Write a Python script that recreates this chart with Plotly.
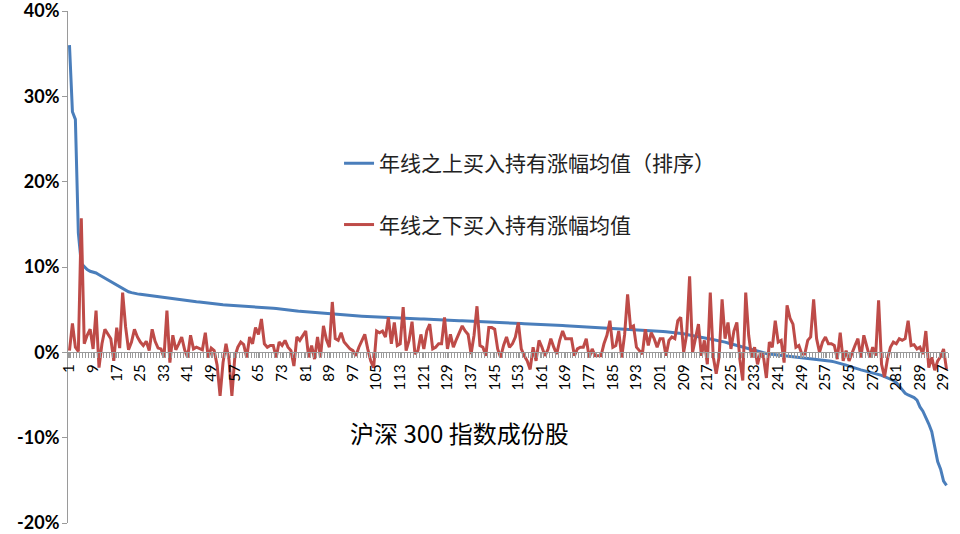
import plotly.graph_objects as go

# ---- data (values in %) ----
above_sorted = [
    36.0, 28.2, 27.3, 14.0, 10.4, 10.0, 9.7, 9.5, 9.4, 9.3,
    9.1, 8.9, 8.7, 8.5, 8.3, 8.1, 7.9, 7.7, 7.4, 7.2,
    7.1, 7.0, 6.9, 6.85, 6.8, 6.75, 6.7, 6.65, 6.6, 6.55,
    6.5, 6.45, 6.4, 6.35, 6.3, 6.28, 6.25, 6.2, 6.15, 6.1,
    6.05, 6.0, 5.97, 5.93, 5.9, 5.85, 5.8, 5.75, 5.7, 5.65,
    5.62, 5.6, 5.58, 5.56, 5.54, 5.52, 5.5, 5.48, 5.46, 5.44,
    5.42, 5.4, 5.37, 5.34, 5.31, 5.28, 5.25, 5.22, 5.19, 5.16,
    5.13, 5.1, 5.06, 5.02, 4.98, 4.94, 4.9, 4.85, 4.8, 4.77,
    4.74, 4.71, 4.68, 4.65, 4.62, 4.59, 4.56, 4.52, 4.48, 4.45,
    4.42, 4.4, 4.38, 4.36, 4.34, 4.32, 4.3, 4.28, 4.26, 4.24,
    4.22, 4.2, 4.18, 4.16, 4.14, 4.12, 4.1, 4.08, 4.06, 4.05,
    4.04, 4.03, 4.02, 4.0, 3.99, 3.97, 3.96, 3.94, 3.93, 3.92,
    3.91, 3.9, 3.89, 3.88, 3.87, 3.85, 3.83, 3.81, 3.79, 3.77,
    3.75, 3.73, 3.71, 3.69, 3.67, 3.65, 3.63, 3.62, 3.61, 3.6,
    3.58, 3.56, 3.54, 3.52, 3.5, 3.48, 3.46, 3.44, 3.42, 3.41,
    3.4, 3.39, 3.38, 3.37, 3.36, 3.35, 3.34, 3.33, 3.32, 3.3,
    3.28, 3.26, 3.24, 3.22, 3.2, 3.18, 3.16, 3.14, 3.12, 3.1,
    3.08, 3.06, 3.04, 3.02, 3.0, 2.98, 2.96, 2.95, 2.94, 2.93,
    2.92, 2.9, 2.88, 2.86, 2.84, 2.82, 2.81, 2.8, 2.77, 2.74,
    2.71, 2.68, 2.65, 2.62, 2.6, 2.58, 2.56, 2.54, 2.52, 2.5,
    2.47, 2.44, 2.41, 2.38, 2.35, 2.32, 2.28, 2.24, 2.18, 2.1,
    2.02, 1.94, 1.86, 1.8, 1.74, 1.68, 1.62, 1.56, 1.5, 1.45,
    1.4, 1.3, 1.2, 1.1, 1.0, 0.92, 0.85, 0.75, 0.65, 0.55,
    0.45, 0.35, 0.2, 0.1, 0.0, -0.08, -0.14, -0.2, -0.24, -0.28,
    -0.31, -0.34, -0.37, -0.4, -0.43, -0.46, -0.5, -0.54, -0.58, -0.62,
    -0.66, -0.7, -0.74, -0.78, -0.82, -0.86, -0.92, -0.98, -1.05, -1.12,
    -1.2, -1.3, -1.4, -1.5, -1.62, -1.75, -1.85, -1.95, -2.05, -2.14,
    -2.22, -2.3, -2.4, -2.5, -2.6, -2.7, -2.85, -3.0, -3.15, -3.3,
    -3.55, -3.95, -4.4, -4.8, -5.0, -5.15, -5.3, -5.6, -6.4, -6.9,
    -7.6, -8.4, -9.3, -11.3, -12.8, -13.7, -15.1, -15.6,
]

below_values = [
    0.2, 3.4, 0.6, 0.1, 15.7, 1.0, 2.0, 2.7, 0.4, 4.9,
    -1.8, 1.0, 2.7, 2.1, 1.6, -1.0, 2.9, 0.5, 7.0, 3.0,
    0.3, 1.2, 2.7, 1.8, 1.2, 0.8, 1.3, 0.2, 2.7, 1.3,
    0.5, 0.4, -0.6, 4.9, -1.2, 2.0, 0.3, 1.0, 1.8, 0.3,
    -0.6, 2.0, 0.4, 0.6, 0.4, 0.3, 2.3, -0.6, 0.5, 0.2,
    -1.5, -5.1, -1.2, 1.0, -0.8, -5.1, -0.5, 0.6, 1.2, 0.9,
    -0.6, 1.8, 1.0, 2.9, 2.1, 3.9, 1.0, 0.6, 0.8, 0.8,
    -0.6, 1.2, 0.8, 1.4, 0.6, 0.2, -1.6, 1.8, 1.4, 2.0,
    2.5, -0.6, 0.8, -0.8, 1.8, -0.6, 3.1, 1.5, 0.6, 5.9,
    1.6, 1.4, 2.3, 1.2, 0.8, 0.4, 0.2, -0.4, 0.6, 1.4,
    2.1, 0.4, -1.0, -1.8, 2.5, 2.3, 2.5, 1.8, 4.1, 1.0,
    3.5, 0.8, 1.0, 5.3, 0.2, 1.4, 3.6, -0.2, 0.2, 2.1,
    0.4, 2.5, 3.3, 0.4, 0.6, 1.0, 1.0, 4.1, 0.4, 2.1,
    0.6, 1.5, 2.3, 3.1, 2.5, 2.1, -0.2, 2.0, 5.4, 0.8,
    0.6, -0.4, 2.9, 2.9, 2.7, 0.4, -0.6, 0.8, 1.8, 0.6,
    1.0, 1.8, 3.5, 0.4, -0.4, -1.0, -2.0, 0.6, -1.0, 1.4,
    0.6, -0.4, 0.3, 1.6, 0.6, -0.2, 1.4, 2.5, 1.6, 1.6,
    1.6, -0.4, 0.4, 0.6, 0.6, 1.6, -0.6, 0.4, -0.4, -0.4,
    -0.4, 1.0, 2.0, 3.7, 0.6, 0.8, 2.5, -0.6, 2.1, 6.8,
    2.9, 3.1, 0.6, 0.2, -0.2, 2.7, 0.8, 2.3, 1.6, 0.6,
    1.6, 1.6, -0.4, 1.4, 1.8, 1.6, 3.7, 4.1, 0.0, 2.1,
    8.9, 0.0, 1.5, 3.3, -0.4, 1.4, -1.4, 7.0, -0.5, -2.5,
    -0.5, 6.2, 1.6, 3.5, 0.4, 2.5, 3.5, -0.8, -3.3, 7.0,
    2.0, -0.6, 0.6, -1.4, 0.0, -0.5, -3.0, 1.2, 0.6, 3.7,
    1.2, 1.4, -1.2, 5.5, 4.0, 3.3, 0.6, 0.8, -0.2, -0.2,
    1.4, 1.8, 6.2, 1.6, 0.0, 1.2, 1.8, 1.0, 1.0, 0.8,
    -0.8, 2.3, -1.0, 0.2, -1.0, 0.0, 0.8, 1.6, -0.6, 2.0,
    0.8, -0.6, 0.6, -0.4, 6.1, -1.4, -2.9, -0.8, 0.6, 1.2,
    1.0, 1.6, 1.4, 1.6, 3.7, 0.8, 0.9, 0.4, 0.6, -0.2,
    2.5, -1.8, -0.6, -2.1, -1.0, -0.5, 0.4, -2.0,
]

categories = list(range(1, len(above_sorted) + 1))
tick_positions = list(range(1, 298, 8))
tick_labels = [str(v) for v in tick_positions]
y_ticks = [-20, -10, 0, 10, 20, 30, 40]
y_tick_labels = [f"{v}%" for v in y_ticks]

name_above = "年线之上买入持有涨幅均值（排序）"
name_below = "年线之下买入持有涨幅均值"
axis_title = "沪深 300 指数成份股"

CJK = "Noto Sans CJK SC"

fig = go.Figure()
fig.add_trace(go.Scatter(
    x=categories, y=above_sorted, mode="lines", name=name_above,
    line=dict(color="#4A7EBB", width=3), legendgroup="a",
))
fig.add_trace(go.Scatter(
    x=categories, y=below_values, mode="lines", name=name_below,
    line=dict(color="#BE4B48", width=3), legendgroup="b",
))

fig.update_layout(
    width=960, height=534,
    margin=dict(l=68, r=12, t=11, b=11, autoexpand=False),
    paper_bgcolor="white", plot_bgcolor="white",
    showlegend=True,
    legend=dict(
        x=0.308, y=0.742, xanchor="left", yanchor="top",
        font=dict(family=CJK, size=21, color="#222"),
        tracegroupgap=31, bgcolor="rgba(0,0,0,0)",
        itemwidth=30,
    ),
    xaxis=dict(
        range=[0.5, 298.5], anchor="free", position=1/3,
        automargin=False,
        showline=True, linecolor="#9a9a9a", linewidth=1,
        showgrid=False, zeroline=False,
        tickmode="array", tickvals=tick_positions, ticktext=tick_labels,
        tickangle=-90, ticks="outside", ticklen=5, tickcolor="#9a9a9a",
        tickfont=dict(family="Lato, Liberation Sans", size=15, color="black"),
        minor=dict(dtick=1, tick0=0.5, ticks="outside", ticklen=5,
                   tickcolor="#9a9a9a", showgrid=False),
    ),
    yaxis=dict(
        range=[-20, 40], tickmode="array", tickvals=y_ticks,
        ticktext=y_tick_labels, automargin=False,
        ticklabeloverflow="allow", ticklabelstandoff=-1,
        showline=True, linecolor="#9a9a9a", linewidth=1,
        showgrid=False, zeroline=False,
        ticks="outside", ticklen=5, tickcolor="#9a9a9a",
        tickfont=dict(family="Lato, Liberation Sans", size=18, color="black",
                      weight="bold"),
    ),
    annotations=[dict(
        text=axis_title, xref="paper", yref="paper",
        x=0.445, y=0.176, xanchor="center", yanchor="middle",
        showarrow=False, font=dict(family=CJK, size=24, color="black"),
    )],
)

fig.write_html(
    "out.html",
    config={"displayModeBar": False},
    post_script="document.body.style.margin='0';document.body.style.overflow='hidden';",
)
